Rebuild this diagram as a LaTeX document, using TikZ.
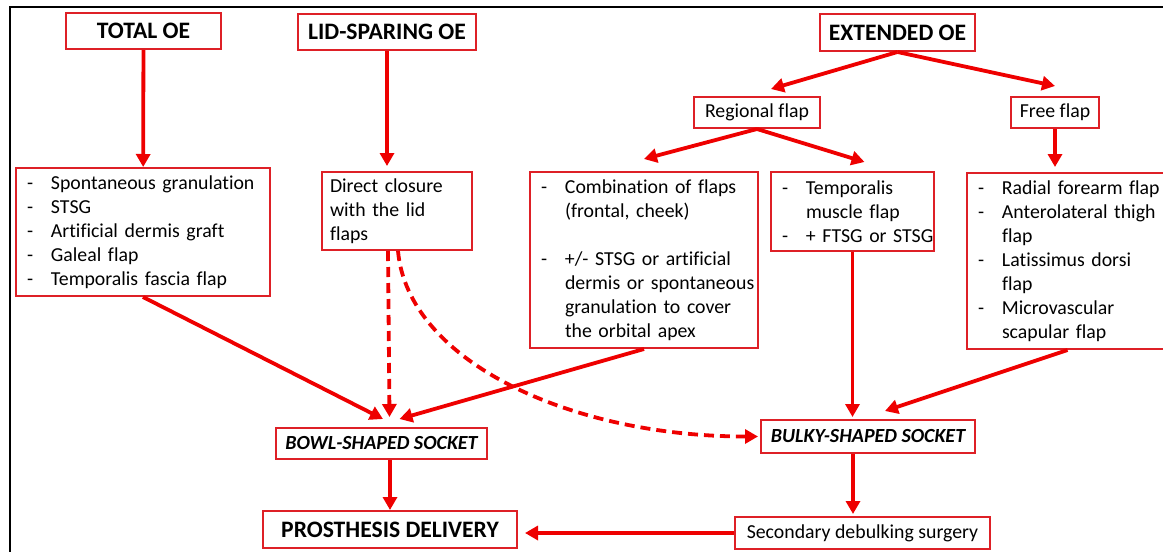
\documentclass[tikz,border=0pt]{standalone}
\usepackage{fontspec}
\setmainfont{Carlito}[Ligatures=CommonOff]
\usepackage{tikz}
\usetikzlibrary{arrows.meta}
\definecolor{boxred}{RGB}{222,32,38}
\definecolor{arrowred}{RGB}{238,0,0}
\newcommand{\li}[1]{\mbox{\makebox[12pt][l]{-}#1}}
\newcommand{\cl}[1]{\mbox{\hspace*{12pt}#1}}

\begin{document}
\begin{tikzpicture}[x=0.5pt, y=-0.5pt,
  titlebox/.style={draw=boxred, line width=1pt, inner sep=0pt, font=\fontsize{11.8}{14}\selectfont\bfseries},
  plainbox/.style={draw=boxred, line width=1pt, inner sep=0pt, font=\fontsize{9.9}{12}\selectfont},
  listbox/.style={plainbox, align=left, inner xsep=5.5pt},
  socketbox/.style={plainbox, font=\fontsize{10}{12}\selectfont\bfseries\itshape},
  link/.style={-{Triangle[length=6.5pt, width=7pt]}, line width=1.9pt, color=arrowred},
  dlink/.style={link, dash pattern=on 5pt off 3pt}]

\useasboundingbox (0,0) rectangle (1163,552);

% frame

\draw [line width=1.2pt] (10,552) -- (10,7) -- (1163,7);

% top nodes

\node[titlebox, minimum width=77.5pt, minimum height=18pt] (total) at (143.5,31) {TOTAL OE};
\node[titlebox, minimum width=89pt, minimum height=18pt] (lid) at (387,32) {LID-SPARING OE};
\node[titlebox, minimum width=77.5pt, minimum height=18.5pt] (ext) at (897.5,32.5) {EXTENDED OE};

% flap nodes

\node[plainbox, minimum width=63pt, minimum height=15.5pt] (reg) at (757,112.5) {Regional flap};
\node[plainbox, minimum width=44pt, minimum height=15.5pt] (free) at (1055,112.5) {Free flap};

% closure nodes

\node[listbox, text width=116pt, minimum height=64pt] (tlist) at (143,232)
  {\li{Spontaneous granulation}\\ \li{STSG}\\ \li{Artificial dermis graft}\\ \li{Galeal flap}\\ \li{Temporalis fascia flap}};
\node[listbox, inner xsep=4pt, text width=67pt, minimum height=39pt] (dclose) at (397,211)
  {Direct closure\\ with the lid\\ flaps};
\node[listbox, text width=103pt, minimum height=88pt] (comb) at (644,260)
  {\li{Combination of flaps}\\ \cl{(frontal, cheek)}\\ \mbox{}\\ \li{+/- STSG or artificial}\\ \cl{dermis or spontaneous}\\ \cl{granulation to cover}\\ \cl{the orbital apex}};
\node[listbox, text width=70.5pt, minimum height=39.5pt] (temp) at (852.5,211.5)
  {\li{Temporalis}\\ \cl{muscle flap}\\ \li{+ FTSG or STSG}};
\node[listbox, text width=91.5pt, minimum height=88pt] (flist) at (1069.5,261)
  {\li{Radial forearm flap}\\ \li{Anterolateral thigh}\\ \cl{flap}\\ \li{Latissimus dorsi}\\ \cl{flap}\\ \li{Microvascular}\\ \cl{scapular flap}};

% socket nodes

\node[socketbox, minimum width=105.5pt, minimum height=15.5pt] (bowl) at (381.5,443.5) {BOWL-SHAPED SOCKET};
\node[socketbox, minimum width=107pt, minimum height=16.5pt] (bulky) at (868,436.5) {BULKY-SHAPED SOCKET};

% final nodes

\node[titlebox, minimum width=127pt, minimum height=18.5pt] (pros) at (390,529.5) {PROSTHESIS DELIVERY};
\node[plainbox, minimum width=127.5pt, minimum height=16pt] (sec) at (862.5,533) {Secondary debulking surgery};

% top to closure
\draw [link] (total) -- (tlist);
\draw [link, shorten >=2.5pt] (lid) -- (lid.south |- dclose.north);
\draw [link] (ext.south) -- ([xshift=7pt, yshift=3.5pt]reg.north);
\draw [link] (ext.south) -- ([yshift=5pt]free.north);
\draw [link] (reg.south) -- ([yshift=6pt]comb.north);
\draw [link] (reg.south) -- ([xshift=6pt, yshift=4.5pt]temp.north);
\draw [link, shorten >=2.5pt] (free.south) -- (free.south |- flist.north);

% closure to socket
\draw [link] (tlist.south) -- ([xshift=0.75pt, yshift=4pt]bowl.north);
\draw [dlink] ([xshift=-4.5pt]dclose.south) -- ([xshift=4pt, yshift=5pt]bowl.north);
\draw [link] (comb.south) -- ([xshift=9pt, yshift=4pt]bowl.north);
\draw [dlink, shorten >=1pt] ([xshift=0.5pt]dclose.south) .. controls +(10,110) and +(-190,0) .. (bulky.west);
\draw [link, shorten >=1pt] (temp.south) -- (temp.south |- bulky.north);
\draw [link] ([xshift=-1pt]flist.south) -- ([xshift=8.5pt, yshift=4pt]bulky.north);

% socket to delivery
\draw [link] (pros.north |- bowl.south) -- (pros.north);
\draw [link, shorten >=1pt] ([xshift=-7.5pt]bulky.south) -- ([xshift=-7.5pt]bulky.south |- sec.north);
\draw [link, shorten >=3.5pt] (sec.west) -- (sec.west -| pros.east);

\end{tikzpicture}
\end{document}
